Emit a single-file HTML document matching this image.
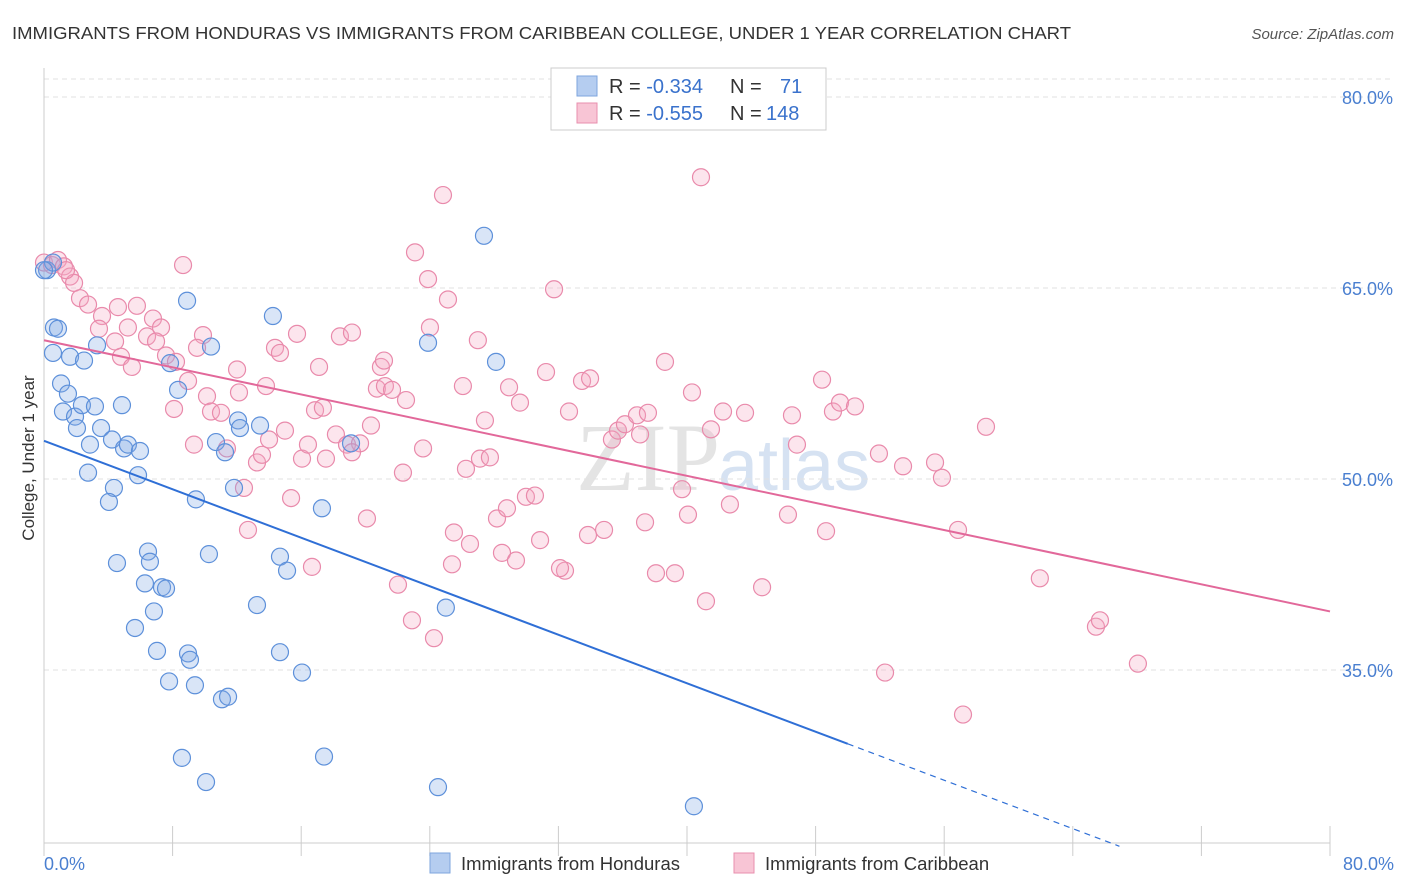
<!DOCTYPE html>
<html><head><meta charset="utf-8"><style>
body{margin:0;background:#fff;font-family:"Liberation Sans",sans-serif;}
svg{display:block}
</style></head><body>
<svg width="1406" height="892">
<text x="12" y="39" font-size="17.5" fill="#333" textLength="1059" lengthAdjust="spacingAndGlyphs">IMMIGRANTS FROM HONDURAS VS IMMIGRANTS FROM CARIBBEAN COLLEGE, UNDER 1 YEAR CORRELATION CHART</text>
<text x="1394" y="39" font-size="15" fill="#555" font-style="italic" text-anchor="end">Source: ZipAtlas.com</text>
<text x="720" y="490" font-size="96" fill="#e4e4e4" text-anchor="end" font-family="Liberation Serif">ZIP</text>
<text x="718" y="490" font-size="72" fill="#d6e2f2">atlas</text>
<g id="grid"></g><g id="axes"></g>
<g id="pinkpts"></g><g id="bluepts"></g><g id="lines"></g>
<text transform="translate(34,458) rotate(-90)" font-size="17" fill="#333" text-anchor="middle">College, Under 1 year</text>
<text x="44" y="870" font-size="18" fill="#4a7fd0">0.0%</text>
<text x="1394" y="870" font-size="18" fill="#4a7fd0" text-anchor="end">80.0%</text>
<g>
<rect x="551" y="68" width="275" height="62" fill="#fff" stroke="#ccc"/>
<rect x="577" y="76" width="20" height="20" fill="#b5cdf0" stroke="#7ea5de"/>
<rect x="577" y="103" width="20" height="20" fill="#f8c5d5" stroke="#e88fae"/>
<text x="609" y="93" font-size="20" fill="#333">R = <tspan fill="#3a72cc">-0.334</tspan><tspan x="730">N = </tspan><tspan x="780" fill="#3a72cc">71</tspan></text>
<text x="609" y="120" font-size="20" fill="#333">R = <tspan fill="#3a72cc">-0.555</tspan><tspan x="730">N = </tspan><tspan x="766" fill="#3a72cc">148</tspan></text>
</g>
<g>
<rect x="430" y="853" width="20" height="20" fill="#b5cdf0" stroke="#7ea5de"/>
<text x="461" y="870" font-size="18.5" fill="#333">Immigrants from Honduras</text>
<rect x="734" y="853" width="20" height="20" fill="#f8c5d5" stroke="#e88fae"/>
<text x="765" y="870" font-size="18.5" fill="#333">Immigrants from Caribbean</text>
</g>
</svg>
<script>
const yTicks=[80,65,50,35];
const yTickLabels=["80.0%","65.0%","50.0%","35.0%"];
const xTicks=[0,8,16,24,32,40,48,56,64,72,80];
const blueX=[0.62,0.87,0.56,1.62,2.49,3.30,1.06,1.49,1.18,1.93,2.36,3.17,2.05,2.86,3.55,4.23,4.98,5.22,5.97,4.85,5.85,2.74,4.35,4.04,6.47,6.59,4.54,6.28,7.34,7.59,6.84,5.66,7.03,8.96,9.08,7.78,9.39,11.07,11.45,8.58,10.08,8.90,10.39,7.84,8.34,10.70,11.26,12.07,12.19,13.44,11.82,9.45,10.26,13.25,14.68,15.12,14.68,16.05,17.42,14.24,17.29,19.10,23.89,25.00,27.37,28.12,24.51,40.43,0.19,0.56,0];
const blueY=[61.9,61.8,59.9,59.6,59.3,60.5,57.5,56.7,55.3,54.9,55.8,55.7,54.0,52.7,54.0,53.1,52.4,52.7,52.2,55.8,50.3,50.5,49.3,48.2,44.3,43.5,43.4,41.8,41.5,41.4,39.6,38.3,36.5,36.3,35.8,34.1,33.8,32.7,32.9,28.1,26.2,64.0,60.4,59.1,57.0,52.9,52.1,54.6,54.0,54.2,49.3,48.4,44.1,40.1,43.9,42.8,36.4,34.8,28.2,62.8,47.7,52.8,60.7,39.9,69.1,59.2,25.8,24.3,66.4,67.0,66.4];
const pinkX=[0,0.50,0.87,1.24,1.62,1.87,1.37,2.24,2.74,3.61,3.42,4.42,4.60,5.22,5.78,6.41,6.78,7.28,4.79,5.47,6.97,7.59,8.21,8.65,8.96,8.09,9.33,10.14,10.39,9.89,9.52,11.01,11.38,12.01,12.13,12.44,12.69,13.25,13.56,14.00,13.81,14.37,14.68,14.99,15.37,15.74,16.05,16.42,17.11,16.86,17.54,16.67,17.35,18.16,18.41,19.16,18.85,19.66,19.16,20.09,20.34,20.71,20.96,21.21,21.65,21.15,22.52,22.02,22.33,22.89,23.58,23.08,23.89,24.26,24.01,25.13,24.82,25.50,25.38,26.06,26.25,26.50,26.99,27.43,27.12,27.74,28.18,28.49,28.80,28.93,29.36,29.61,29.98,30.54,30.86,31.23,31.73,32.41,32.66,32.10,33.47,33.97,33.84,34.84,35.33,35.71,36.14,36.89,37.57,37.39,37.08,38.07,38.63,39.25,39.69,40.06,40.31,40.87,41.18,41.49,42.24,42.67,43.61,44.67,46.28,46.53,46.84,48.65,48.40,49.08,49.52,50.45,51.94,52.32,53.44,55.43,55.86,56.86,57.17,58.60,61.95,65.44,65.69,68.05];
const pinkY=[67.0,66.8,67.2,66.7,65.9,65.4,66.4,64.2,63.7,62.8,61.8,60.8,63.5,61.9,63.6,61.2,62.6,61.9,59.6,58.8,60.8,59.7,59.2,66.8,57.7,55.5,52.7,56.5,55.3,61.3,60.3,55.2,52.4,58.6,56.8,49.3,46.0,51.3,51.9,53.1,57.3,60.3,59.9,53.8,48.5,61.4,51.6,52.7,58.8,55.4,51.6,43.1,55.6,53.5,61.2,61.5,52.7,52.8,52.1,46.9,54.2,57.1,58.8,57.3,57.0,59.3,56.2,41.7,50.5,38.9,52.4,67.8,65.7,37.5,61.9,64.1,72.3,45.8,43.3,57.3,50.8,44.9,60.9,54.6,51.6,51.7,46.9,44.2,47.7,57.2,43.6,56.0,48.6,48.7,45.2,58.4,64.9,42.8,55.3,43.0,57.7,57.9,45.6,46.0,53.1,53.8,54.3,55.0,55.2,46.6,53.5,42.6,59.2,42.6,49.2,47.2,56.8,73.7,40.4,53.9,55.3,48.0,55.2,41.5,47.2,55.0,52.7,45.9,57.8,55.3,56.0,55.7,52.0,34.8,51.0,51.3,50.1,46.0,31.5,54.1,42.2,38.4,38.9,35.5];
const blueTrend=[0,53.0,50,29.2,66.9];
const pinkTrend=[0,60.9,80,39.6];
const NS="http://www.w3.org/2000/svg";
function X(v){return 44+v*16.075;}
function Y(v){return 479-(v-50)*12.733;}
function mk(tag,attrs,parent){const e=document.createElementNS(NS,tag);for(const k in attrs)e.setAttribute(k,attrs[k]);parent.appendChild(e);return e;}
const grid=document.getElementById('grid'),axes=document.getElementById('axes');
let g0=mk('line',{x1:44,x2:1394,y1:79,y2:79,stroke:'#e2e2e2','stroke-dasharray':'5,4'},grid);


yTicks.forEach((t,i)=>{
 const l=mk('line',{x1:44,x2:1394,y1:Y(t),y2:Y(t),stroke:'#e2e2e2','stroke-dasharray':'5,4'},grid);
 
 
 const tx=mk('text',{x:1393,y:Y(t)+7,'font-size':18,fill:'#4a7fd0','text-anchor':'end'},grid);
 tx.textContent=yTickLabels[i];
 
 
});
let ax=mk('line',{x1:44,x2:1330,y1:843,y2:843,stroke:'#ccc'},axes);


let ay=mk('line',{x1:44,x2:44,y1:68,y2:843,stroke:'#ccc'},axes);


xTicks.forEach(t=>{
 const l=mk('line',{x1:X(t),x2:X(t),y1:826,y2:856,stroke:'#ccc'},axes);
 
 
});
function pts(xs,ys,gid,fill,stroke,name){
 const g=document.getElementById(gid);
 xs.forEach((x,i)=>{
  const c=mk('circle',{cx:X(x),cy:Y(ys[i]),r:8.5,fill:fill,stroke:stroke,'stroke-width':1.2},g);
  
  
 });
}
pts(pinkX,pinkY,'pinkpts','rgba(244,170,196,0.3)','#e98aab','caribbean-point');
pts(blueX,blueY,'bluepts','rgba(130,170,228,0.3)','#5d90da','honduras-point');
const lg=document.getElementById('lines');
let bl=mk('line',{x1:X(blueTrend[0]),y1:Y(blueTrend[1]),x2:X(blueTrend[2]),y2:Y(blueTrend[3]),stroke:'#2f6fd6','stroke-width':2},lg);


const slope=(blueTrend[3]-blueTrend[1])/(blueTrend[2]-blueTrend[0]);
let bd=mk('line',{x1:X(blueTrend[2]),y1:Y(blueTrend[3]),x2:X(blueTrend[4]),y2:Y(blueTrend[1]+slope*blueTrend[4]),stroke:'#2f6fd6','stroke-width':1.2,'stroke-dasharray':'6,5'},lg);


let pl=mk('line',{x1:X(pinkTrend[0]),y1:Y(pinkTrend[1]),x2:X(pinkTrend[2]),y2:Y(pinkTrend[3]),stroke:'#e2689a','stroke-width':2},lg);


</script>
</body></html>
